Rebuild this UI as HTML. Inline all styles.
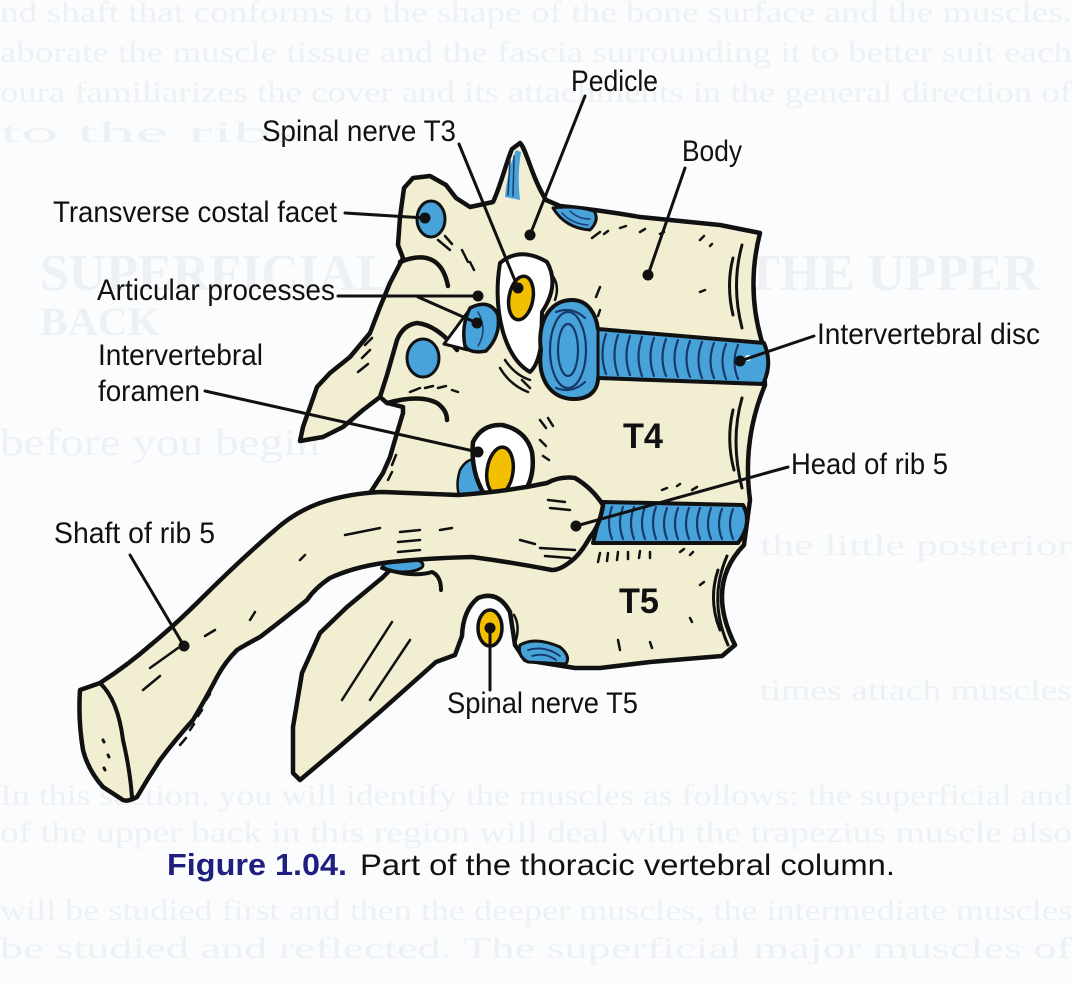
<!DOCTYPE html>
<html>
<head>
<meta charset="utf-8">
<style>
html,body{margin:0;padding:0;background:#fbfcfd;}
svg{display:block;}
.lbl{font-family:"Liberation Sans",Arial,sans-serif;font-size:30px;fill:#111;}
.ghost{font-family:"Liberation Serif",serif;fill:#eef1f4;}
</style>
</head>
<body>
<svg width="1072" height="984" viewBox="0 0 1072 984" xmlns="http://www.w3.org/2000/svg">
<rect width="1072" height="984" fill="#fbfcfd"/>

<!-- faint bleed-through text -->
<g class="ghost">
<text x="0" y="22" font-size="30" textLength="1072" lengthAdjust="spacingAndGlyphs">nd shaft that conforms to the shape of the bone surface and the muscles.</text>
<text x="0" y="62" font-size="30" textLength="1072" lengthAdjust="spacingAndGlyphs">aborate the muscle tissue and the fascia surrounding it to better suit each</text>
<text x="0" y="102" font-size="30" textLength="1072" lengthAdjust="spacingAndGlyphs">oura familiarizes the cover and its attachments in the general direction of</text>
<text x="0" y="142" font-size="30" textLength="300" lengthAdjust="spacingAndGlyphs">to the ribs</text>
<text x="40" y="290" font-size="52" font-weight="bold" textLength="1000" lengthAdjust="spacingAndGlyphs">SUPERFICIAL MUSCLES OF THE UPPER</text>
<text x="40" y="335" font-size="40" font-weight="bold" textLength="120" lengthAdjust="spacingAndGlyphs">BACK</text>
<text x="0" y="455" font-size="38" textLength="320" lengthAdjust="spacingAndGlyphs">before you begin</text>
<text x="760" y="555" font-size="30" textLength="312" lengthAdjust="spacingAndGlyphs">the little posterior</text>
<text x="760" y="700" font-size="30" textLength="312" lengthAdjust="spacingAndGlyphs">times attach muscles</text>
<text x="0" y="805" font-size="30" textLength="1072" lengthAdjust="spacingAndGlyphs">In this section, you will identify the muscles as follows: the superficial and</text>
<text x="0" y="842" font-size="30" textLength="1072" lengthAdjust="spacingAndGlyphs">of the upper back in this region will deal with the trapezius muscle also</text>
<text x="0" y="920" font-size="30" textLength="1072" lengthAdjust="spacingAndGlyphs">will be studied first and then the deeper muscles, the intermediate muscles</text>
<text x="0" y="958" font-size="30" textLength="1072" lengthAdjust="spacingAndGlyphs">be studied and reflected. The superficial major muscles of</text>
</g>

<g stroke-linejoin="round" stroke-linecap="round">

<!-- main vertebral silhouette -->
<path d="M520,143 C526,148 532,178 546,200 L560,206 Q600,210 640,217 L720,225 L760,233 Q746,288 762,342 L765,385 Q742,440 750,500 L744,545 Q705,585 735,645 L722,656 L650,662 L600,668 L575,668 L550,664 L525,660 L515,645 L510,612 Q498,590 478,598 Q463,610 462,636 L455,655 L436,662 L382,710 L338,748 L300,780 L293,773 L293,727 L302,673 L320,633 L347,607 L382,578 L400,560 L357,500 L370,493 L383,473 L390,457 L397,433 L403,413 L403,407 L387,403 L380,397 L363,410 L343,427 L323,437 L300,441 L303,427 L310,407 L317,387 L330,373 L350,357 L370,333 L380,307 L390,283 L403,258 L398,245 L400,217 L404,188 L413,178 L430,176 L446,185 L456,198 L470,207 L493,202 C500,188 506,163 512,149 Z" fill="#f1eed2" stroke="#111" stroke-width="4.5"/>

<!-- spike blue -->
<path d="M516,150 Q507,172 505,197 L520,200 Q517,176 521,152 Z" fill="#47a3da"/>
<path d="M510,160 L508,195 M514,156 L513,196" stroke="#1b3d6e" stroke-width="1.5" fill="none"/>

<!-- blue crescent near pedicle top -->
<path d="M553,208 Q565,228 590,230 Q600,220 594,211 Q575,205 553,208 Z" fill="#47a3da" stroke="#111" stroke-width="3"/>
<path d="M562,213 Q572,224 588,225 M570,211 Q578,219 590,219" stroke="#1b3d6e" stroke-width="1.5" fill="none"/>

<!-- body concave lines -->
<path d="M742,245 Q731,285 742,328 M733,258 Q726,285 733,315" stroke="#111" stroke-width="3" fill="none"/>
<path d="M742,398 Q730,440 742,488 M733,410 Q726,440 734,470" stroke="#111" stroke-width="3" fill="none"/>
<path d="M727,556 Q708,600 728,645 M718,570 Q708,600 720,630" stroke="#111" stroke-width="3" fill="none"/>

<!-- stipple dashes -->
<g stroke="#111" stroke-width="2.5" fill="none">
<path d="M592,238 L600,232 M604,234 L608,231 M620,228 L626,226 M640,232 L645,229 M660,234 L664,232 M700,240 L704,236 M710,246 L712,244"/>
<path d="M438,240 L450,250 M445,236 L452,244 M462,250 L468,262 M470,262 L474,270"/>
<path d="M600,287 L596,297 M600,310 L598,316 M700,292 L705,290"/>
<path d="M410,392 L420,388 M425,388 L433,386 M438,388 L446,386 M452,390 L458,392"/>
<path d="M600,553 L598,562 M608,553 L607,561 M618,552 L617,560 M628,552 L628,559 M640,551 L639,558 M650,552 L650,558 M680,552 L684,549 M690,555 L693,552"/>
<path d="M655,512 L660,508 M662,490 L667,488 M677,486 L680,484 M692,490 L697,487"/>
<path d="M618,640 L620,650 M650,642 L652,648 M690,618 L692,622 M700,585 L704,582"/>
<path d="M540,420 L546,428 M548,418 L553,426 M522,380 L530,388"/>
<path d="M365,345 L372,338 M362,358 L370,350 M358,372 L368,364 M392,465 L396,455 M388,480 L392,472"/>
</g>

<!-- T3 transverse facet -->
<ellipse cx="431" cy="219" rx="14" ry="18" fill="#47a3da" stroke="#111" stroke-width="3"/>
<!-- T3 hook -->
<path d="M400,262 Q440,246 448,286" stroke="#111" stroke-width="4.5" fill="none"/>

<!-- T4 transverse process outline -->
<path d="M380,397 L387,375 L397,340 Q403,325 417,323 Q437,325 457,350" stroke="#111" stroke-width="4.5" fill="none"/>
<ellipse cx="423" cy="358" rx="16" ry="19" fill="#47a3da" stroke="#111" stroke-width="3"/>
<path d="M387,403 Q420,394 437,403 Q447,410 447,420" stroke="#111" stroke-width="4.5" fill="none"/>

<!-- articular region -->
<path d="M444,344 L470,309 L468,350 Z" fill="#fff" stroke="#111" stroke-width="3"/>
<path d="M470,308 Q490,298 498,315 Q501,336 486,351 Q470,354 465,346 Q461,326 470,308 Z" fill="#47a3da" stroke="#111" stroke-width="3.5"/>
<path d="M478,312 Q488,330 478,346" stroke="#1b3d6e" stroke-width="1.5" fill="none"/>

<!-- T3 nerve foramen -->
<path d="M500,263 Q520,246 547,262 Q560,285 542,312 L541,345 Q538,365 530,372 Q512,362 503,332 Q494,300 500,263 Z" fill="#fff" stroke="#111" stroke-width="4"/>
<ellipse cx="521" cy="298" rx="12" ry="22" transform="rotate(10 521 298)" fill="#f2c000" stroke="#111" stroke-width="3.5"/>
<path d="M552,275 Q560,285 555,300 M505,360 Q515,375 530,380 M500,368 Q510,385 528,392" stroke="#111" stroke-width="2.5" fill="none"/>

<!-- disc T3/T4 -->
<path d="M572,300 C548,300 537,325 541,350 C537,378 550,400 576,399 C592,398 598,388 598,378 L763,384 Q773,364 764,343 L598,329 C596,314 588,300 572,300 Z" fill="#47a3da" stroke="#111" stroke-width="4"/>
<g stroke="#173a6a" stroke-width="2.2" fill="none">
<path d="M606,334 Q599,354 606,374 M618,335 Q611,355 618,375 M630,336 Q623,356 630,375 M642,337 Q635,357 642,376 M654,338 Q647,357 654,376 M666,339 Q659,358 666,376 M678,340 Q671,358 678,377 M690,341 Q683,359 690,377 M702,342 Q695,360 702,378 M714,343 Q707,361 714,378 M726,344 Q719,361 726,379 M738,345 Q731,362 738,379"/>
<ellipse cx="568" cy="350" rx="18" ry="38"/>
<ellipse cx="568" cy="350" rx="10" ry="26"/>
<path d="M556,312 Q572,306 585,318 M556,388 Q572,394 585,382"/>
</g>
<path d="M598,329 L598,378" stroke="#111" stroke-width="3"/>
<circle cx="748" cy="358" r="3" fill="#fff"/>

<!-- disc T4/T5 -->
<path d="M603,502 L743,505 Q753,523 738,543 L593,543 Z" fill="#47a3da" stroke="#111" stroke-width="4"/>
<g stroke="#173a6a" stroke-width="2.2" fill="none">
<path d="M612,507 Q606,523 612,539 M623,507 Q617,523 623,539 M634,507 Q628,523 634,539 M645,507 Q639,523 645,539 M656,507 Q650,523 656,539 M667,508 Q661,524 667,539 M678,508 Q672,524 678,539 M689,508 Q683,524 689,539 M700,508 Q694,524 700,539 M711,508 Q705,524 711,539 M722,509 Q716,524 722,539 M733,509 Q727,524 733,539"/>
</g>

<!-- T4 foramen -->
<path d="M460,470 Q468,456 480,460 L484,498 L460,498 Q455,485 460,470 Z" fill="#47a3da" stroke="#111" stroke-width="2.5"/>
<path d="M473,442 Q482,424 502,425 Q526,430 532,452 Q536,480 520,497 L488,500 Q470,475 473,442 Z" fill="#fff" stroke="#111" stroke-width="4.5"/>
<ellipse cx="500" cy="471" rx="13" ry="24" transform="rotate(8 500 471)" fill="#f2c000" stroke="#111" stroke-width="3.5"/>
<path d="M540,440 L546,446 M543,456 L549,460" stroke="#111" stroke-width="2.5"/>

<!-- T5 bottom blue -->
<path d="M520,645 Q535,636 560,647 Q571,656 566,664 L528,662 Q517,656 520,645 Z" fill="#47a3da" stroke="#111" stroke-width="3"/>
<path d="M528,650 Q545,645 560,656 M532,656 Q545,652 556,660" stroke="#173a6a" stroke-width="1.8" fill="none"/>

<!-- T5 nerve -->
<ellipse cx="490" cy="628" rx="12" ry="18" fill="#f2c000" stroke="#111" stroke-width="3.5"/>
<path d="M514,615 Q520,625 516,640" stroke="#111" stroke-width="2.5" fill="none"/>

<!-- lower spike inner lines -->
<path d="M392,622 L342,700 M410,640 L370,700" stroke="#111" stroke-width="2.5" fill="none"/>

<!-- tubercle blue bit -->
<ellipse cx="403" cy="565" rx="20" ry="7" fill="#47a3da" stroke="#111" stroke-width="3"/>
<path d="M382,568 Q412,578 432,572 Q441,576 441,590" stroke="#111" stroke-width="4" fill="none"/>

<!-- rib 5 -->
<path d="M80,690 L100,683 Q128,665 153,643 Q176,624 200,600 Q240,560 275,530 Q295,512 320,503 Q350,493 383,492 L458,495 Q505,492 547,483 Q560,476 575,478 Q592,488 603,505 Q600,525 590,537 Q580,555 570,562 Q560,570 552,570 Q510,562 472,557 Q430,558 391,562 Q356,566 330,578 Q315,588 307,600 Q285,618 260,637 Q245,645 237,650 Q225,662 217,677 Q205,700 193,720 Q175,740 160,760 Q148,778 137,797 Q128,802 123,800 L103,787 Q88,770 83,750 Q78,720 80,690 Z" fill="#f1eed2" stroke="#111" stroke-width="4.5"/>
<path d="M100,683 Q118,700 123,740 Q130,770 132,797" stroke="#111" stroke-width="4" fill="none"/>
<path d="M103,740 L104,742 M108,755 L109,757 M104,768 L105,770" stroke="#111" stroke-width="3"/>
<!-- rib markings -->
<g stroke="#111" stroke-width="2.5" fill="none">
<path d="M150,668 L178,648 M143,690 L160,676 M205,636 L215,630"/>
<path d="M180,745 L186,738 M190,730 L194,724 M198,716 L202,710 M206,700 L210,694 M213,686 L216,680"/>
<path d="M345,535 L380,528 M400,532 L420,530 M398,542 L420,540 M398,552 L420,550 M440,530 L452,528"/>
<path d="M548,500 L565,502 M550,508 L570,510 M540,548 L575,550 M545,556 L570,558 M520,540 L535,544"/>
<path d="M250,620 L255,612 M300,560 L305,555"/>
</g>

<!-- leader lines -->
<g stroke="#111" stroke-width="3" fill="none">
<path d="M585,96 L530,235"/>
<path d="M459,144 L518,288"/>
<path d="M685,168 L648,275"/>
<path d="M345,213 L425,218"/>
<path d="M338,296 L478,296"/>
<path d="M418,297 L477,323"/>
<path d="M205,391 L478,452"/>
<path d="M814,336 L740,361"/>
<path d="M788,467 L576,526"/>
<path d="M130,555 L184,646"/>
<path d="M490,690 L490,628"/>
</g>
<g fill="#111">
<circle cx="530" cy="235" r="5.5"/>
<circle cx="518" cy="288" r="5.5"/>
<circle cx="648" cy="275" r="5.5"/>
<circle cx="425" cy="218" r="5.5"/>
<circle cx="478" cy="296" r="5.5"/>
<circle cx="477" cy="323" r="5.5"/>
<circle cx="478" cy="452" r="5.5"/>
<circle cx="740" cy="361" r="5.5"/>
<circle cx="576" cy="526" r="5.5"/>
<circle cx="184" cy="646" r="5.5"/>
<circle cx="490" cy="628" r="5.5"/>
</g>
</g>

<!-- vertebra labels -->
<text x="623" y="448" font-family="Liberation Sans, Arial, sans-serif" font-size="35" font-weight="bold" fill="#111" textLength="40" lengthAdjust="spacingAndGlyphs">T4</text>
<text x="619" y="613" font-family="Liberation Sans, Arial, sans-serif" font-size="35" font-weight="bold" fill="#111" textLength="40" lengthAdjust="spacingAndGlyphs">T5</text>

<!-- labels -->
<text class="lbl" x="571" y="91" textLength="87" lengthAdjust="spacingAndGlyphs">Pedicle</text>
<text class="lbl" x="262" y="141" textLength="194" lengthAdjust="spacingAndGlyphs">Spinal nerve T3</text>
<text class="lbl" x="682" y="161" textLength="60" lengthAdjust="spacingAndGlyphs">Body</text>
<text class="lbl" x="53" y="222" textLength="284" lengthAdjust="spacingAndGlyphs">Transverse costal facet</text>
<text class="lbl" x="97" y="300" textLength="238" lengthAdjust="spacingAndGlyphs">Articular processes</text>
<text class="lbl" x="98" y="365" textLength="165" lengthAdjust="spacingAndGlyphs">Intervertebral</text>
<text class="lbl" x="98" y="401" textLength="102" lengthAdjust="spacingAndGlyphs">foramen</text>
<text class="lbl" x="817" y="344" textLength="223" lengthAdjust="spacingAndGlyphs">Intervertebral disc</text>
<text class="lbl" x="791" y="474" textLength="157" lengthAdjust="spacingAndGlyphs">Head of rib 5</text>
<text class="lbl" x="54" y="543" textLength="161" lengthAdjust="spacingAndGlyphs">Shaft of rib 5</text>
<text class="lbl" x="447" y="713" textLength="191" lengthAdjust="spacingAndGlyphs">Spinal nerve T5</text>

<!-- caption -->
<text x="167" y="875" font-family="Liberation Sans, Arial, sans-serif" font-size="31" font-weight="bold" fill="#1f1f80" textLength="180" lengthAdjust="spacingAndGlyphs">Figure 1.04.</text>
<text x="360" y="875" font-family="Liberation Sans, Arial, sans-serif" font-size="30" fill="#111" textLength="535" lengthAdjust="spacingAndGlyphs">Part of the thoracic vertebral column.</text>
</svg>
</body>
</html>
